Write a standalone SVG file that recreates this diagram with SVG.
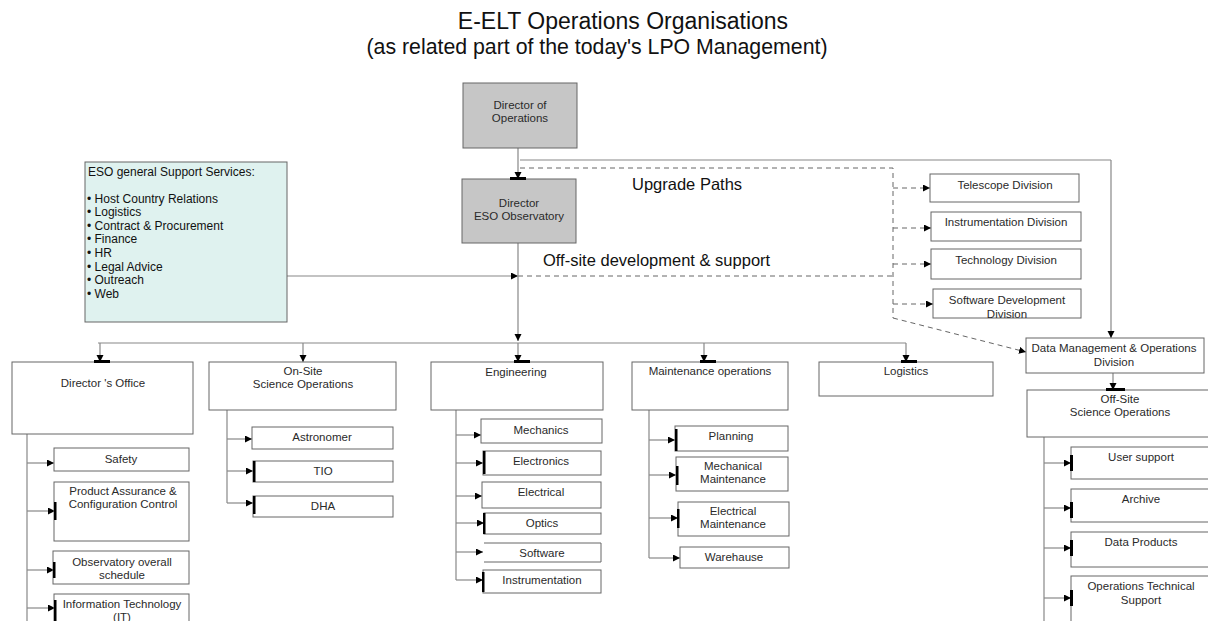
<svg xmlns="http://www.w3.org/2000/svg" width="1208" height="621" viewBox="0 0 1208 621">
<defs>
<marker id="ah" markerUnits="userSpaceOnUse" markerWidth="8" markerHeight="8" refX="7" refY="3.5" orient="auto"><path d="M0,0 L7,3.5 L0,7 z" fill="#000"/></marker>
<style>
.t{font-family:"Liberation Sans",Arial,sans-serif;fill:#2a2a2a;font-size:11.5px;text-anchor:middle}
.tl{font-family:"Liberation Sans",Arial,sans-serif;fill:#111;font-size:12px}
.big{font-family:"Liberation Sans",Arial,sans-serif;fill:#111;font-size:16.5px}
.title{font-family:"Liberation Sans",Arial,sans-serif;fill:#111;text-anchor:middle}
.b{fill:#fff;stroke:#666;stroke-width:1}
.g{fill:#c6c6c6;stroke:#666;stroke-width:1}
.s{fill:#dff2ef;stroke:#666;stroke-width:1}
.c{fill:none;stroke:#888;stroke-width:1.2}
.ca{fill:none;stroke:#888;stroke-width:1.2;marker-end:url(#ah)}
.d{fill:none;stroke:#666;stroke-width:1;stroke-dasharray:5,4}
.da{fill:none;stroke:#666;stroke-width:1;stroke-dasharray:5,4;marker-end:url(#ah)}
.bar{fill:#000}
</style>
</defs>
<rect width="1208" height="621" fill="#fff"/>
<text class="title" x="623" y="29" font-size="23">E-ELT Operations Organisations</text>
<text class="title" x="597" y="54" font-size="21.3">(as related part of the today's LPO Management)</text>
<text class="big" x="632" y="190">Upgrade Paths</text>
<text class="big" x="543" y="266">Off-site development &amp; support</text>

<g id="connectors">
<path class="ca" d="M518,148 V179"/>
<path class="c" d="M520,160 H1111"/>
<path class="ca" d="M1111,160 V338"/>
<path class="d" d="M520,168 H893 V318"/>
<path class="da" d="M893,318 L1026,352"/>
<path class="da" d="M893,188 H930"/>
<path class="da" d="M893,228 H931"/>
<path class="da" d="M893,264 H931"/>
<path class="da" d="M893,304 H933"/>
<path class="ca" d="M287,276 H518"/>
<path class="d" d="M518,276 H893"/>
<path class="ca" d="M518,243 V341"/>
<path class="c" d="M98,343 H906"/>
<path class="ca" d="M518,343 V362"/>
<path class="ca" d="M100,343 V362"/>
<path class="ca" d="M303,343 V362"/>
<path class="ca" d="M704,343 V362"/>
<path class="ca" d="M906,343 V362"/>
<path class="ca" d="M1113,373 V390"/>
<path class="c" d="M27,434 V621"/>
<path class="ca" d="M27,463 H54"/>
<path class="ca" d="M27,511 H55"/>
<path class="ca" d="M27,570 H54"/>
<path class="ca" d="M27,608 H55"/>
<path class="c" d="M227,410 V503"/>
<path class="ca" d="M227,439 H252"/>
<path class="ca" d="M227,471 H253"/>
<path class="ca" d="M227,503 H253"/>
<path class="c" d="M456,410 V580"/>
<path class="ca" d="M456,435 H481"/>
<path class="ca" d="M456,463 H483"/>
<path class="ca" d="M456,496 H482"/>
<path class="ca" d="M456,523 H484"/>
<path class="ca" d="M456,552 H483"/>
<path class="ca" d="M456,580 H483"/>
<path class="c" d="M649,410 V558"/>
<path class="ca" d="M649,440 H675"/>
<path class="ca" d="M649,475 H676"/>
<path class="ca" d="M649,518 H678"/>
<path class="ca" d="M649,558 H680"/>
<path class="c" d="M1044,437 V621"/>
<path class="ca" d="M1044,463 H1071"/>
<path class="ca" d="M1044,508 H1071"/>
<path class="ca" d="M1044,548 H1071"/>
<path class="ca" d="M1044,598 H1071"/>
</g>

<g id="support">
<rect class="s" x="85" y="162" width="202" height="160"/>
<text class="tl" x="88" y="176">ESO general Support Services:</text>
<text class="tl" x="87" y="203">• Host Country Relations</text>
<text class="tl" x="87" y="216">• Logistics</text>
<text class="tl" x="87" y="230">• Contract &amp; Procurement</text>
<text class="tl" x="87" y="243">• Finance</text>
<text class="tl" x="87" y="257">• HR</text>
<text class="tl" x="87" y="271">• Legal Advice</text>
<text class="tl" x="87" y="284">• Outreach</text>
<text class="tl" x="87" y="298">• Web</text>
</g>

<g id="dir-ops"><rect class="g" x="463" y="83" width="114" height="65"/><text class="t" x="520" y="109">Director of</text><text class="t" x="520" y="122">Operations</text></g>
<g id="dir-eso"><rect class="g" x="462" y="179" width="114" height="64"/><rect class="bar" x="510" y="177" width="16" height="3"/><text class="t" x="519" y="207">Director</text><text class="t" x="519" y="220">ESO Observatory</text></g>

<g id="telescope"><rect class="b" x="930" y="174" width="149" height="28"/><text class="t" x="1005" y="189">Telescope Division</text></g>
<g id="instrumentation-div"><rect class="b" x="931" y="212" width="150" height="29"/><text class="t" x="1006" y="226">Instrumentation Division</text></g>
<g id="technology"><rect class="b" x="931" y="249" width="150" height="30"/><text class="t" x="1006" y="264">Technology Division</text></g>
<g id="software-div"><rect class="b" x="933" y="289" width="148" height="29"/><text class="t" x="1007" y="304">Software Development</text><text class="t" x="1007" y="318">Division</text></g>
<g id="data-mgmt"><rect class="b" x="1026" y="338" width="178" height="35"/><text class="t" x="1114" y="352">Data Management &amp; Operations</text><text class="t" x="1114" y="366">Division</text></g>

<g id="directors-office"><rect class="b" x="12" y="362" width="181" height="72"/><rect class="bar" x="94" y="360" width="16" height="3"/><text class="t" x="103" y="387">Director 's Office</text></g>
<g id="onsite"><rect class="b" x="209" y="362" width="187" height="48"/><text class="t" x="303" y="375">On-Site</text><text class="t" x="303" y="388">Science Operations</text></g>
<g id="engineering"><rect class="b" x="431" y="362" width="172" height="48"/><rect class="bar" x="514" y="360" width="16" height="3"/><text class="t" x="516" y="376">Engineering</text></g>
<g id="maintenance"><rect class="b" x="632" y="362" width="156" height="48"/><rect class="bar" x="700" y="360" width="16" height="3"/><text class="t" x="710" y="375">Maintenance operations</text></g>
<g id="logistics"><rect class="b" x="819" y="362" width="174" height="34"/><rect class="bar" x="901" y="360" width="16" height="3"/><text class="t" x="906" y="375">Logistics</text></g>
<g id="offsite"><rect class="b" x="1027" y="390" width="190" height="47"/><rect class="bar" x="1106" y="388" width="19" height="3"/><text class="t" x="1120" y="403">Off-Site</text><text class="t" x="1120" y="416">Science Operations</text></g>

<g id="safety"><rect class="b" x="54" y="448" width="135" height="23"/><text class="t" x="121" y="463">Safety</text></g>
<g id="product-assurance"><rect class="b" x="54" y="482" width="135" height="59"/><rect class="bar" x="54" y="502" width="2.5" height="18"/><text class="t" x="123" y="495">Product Assurance &amp;</text><text class="t" x="123" y="508">Configuration Control</text></g>
<g id="schedule"><rect class="b" x="53" y="551" width="136" height="33"/><rect class="bar" x="53" y="562" width="2.5" height="16"/><text class="t" x="122" y="566">Observatory overall</text><text class="t" x="122" y="579">schedule</text></g>
<g id="it"><rect class="b" x="54" y="594" width="135" height="40"/><rect class="bar" x="54" y="600" width="2.5" height="21"/><text class="t" x="122" y="608">Information Technology</text><text class="t" x="122" y="621">(IT)</text></g>

<g id="astronomer"><rect class="b" x="252" y="427" width="141" height="22"/><text class="t" x="322" y="441">Astronomer</text></g>
<g id="tio"><rect class="b" x="253" y="461" width="140" height="21"/><rect class="bar" x="253" y="461" width="2.5" height="21"/><text class="t" x="323" y="475">TIO</text></g>
<g id="dha"><rect class="b" x="253" y="496" width="140" height="21"/><rect class="bar" x="253" y="496" width="2.5" height="18"/><text class="t" x="323" y="510">DHA</text></g>

<g id="mechanics"><rect class="b" x="481" y="419" width="121" height="24"/><text class="t" x="541" y="434">Mechanics</text></g>
<g id="electronics"><rect class="b" x="483" y="451" width="118" height="24"/><rect class="bar" x="483" y="451" width="2.5" height="23"/><text class="t" x="541" y="465">Electronics</text></g>
<g id="electrical"><rect class="b" x="482" y="482" width="119" height="26"/><text class="t" x="541" y="496">Electrical</text></g>
<g id="optics"><rect class="b" x="484" y="513" width="117" height="21"/><rect class="bar" x="483" y="513" width="2.5" height="21"/><text class="t" x="542" y="527">Optics</text></g>
<g id="software"><path class="b" d="M484,543 H601 V562 H484"/><text class="t" x="542" y="557">Software</text></g>
<g id="instrumentation"><rect class="b" x="483" y="570" width="118" height="23"/><rect class="bar" x="482" y="572" width="2.5" height="20"/><text class="t" x="542" y="584">Instrumentation</text></g>

<g id="planning"><rect class="b" x="675" y="426" width="113" height="25"/><rect class="bar" x="675" y="429" width="2.5" height="22"/><text class="t" x="731" y="440">Planning</text></g>
<g id="mech-maint"><rect class="b" x="676" y="457" width="112" height="34"/><rect class="bar" x="676" y="466" width="2.5" height="19"/><text class="t" x="733" y="470">Mechanical</text><text class="t" x="733" y="483">Maintenance</text></g>
<g id="elec-maint"><rect class="b" x="678" y="502" width="111" height="34"/><rect class="bar" x="677" y="509" width="2.5" height="19"/><text class="t" x="733" y="515">Electrical</text><text class="t" x="733" y="528">Maintenance</text></g>
<g id="warehause"><rect class="b" x="680" y="547" width="109" height="21"/><text class="t" x="734" y="561">Warehause</text></g>

<g id="user-support"><rect class="b" x="1071" y="447" width="150" height="32"/><rect class="bar" x="1070" y="455" width="3" height="16"/><text class="t" x="1141" y="461">User support</text></g>
<g id="archive"><rect class="b" x="1071" y="489" width="150" height="33"/><rect class="bar" x="1070" y="502" width="3" height="16"/><text class="t" x="1141" y="503">Archive</text></g>
<g id="data-products"><rect class="b" x="1071" y="532" width="150" height="35"/><rect class="bar" x="1070" y="540" width="3" height="16"/><text class="t" x="1141" y="546">Data Products</text></g>
<g id="ops-tech"><rect class="b" x="1071" y="576" width="150" height="60"/><rect class="bar" x="1070" y="590" width="3" height="16"/><text class="t" x="1141" y="590">Operations Technical</text><text class="t" x="1141" y="604">Support</text></g>
</svg>
